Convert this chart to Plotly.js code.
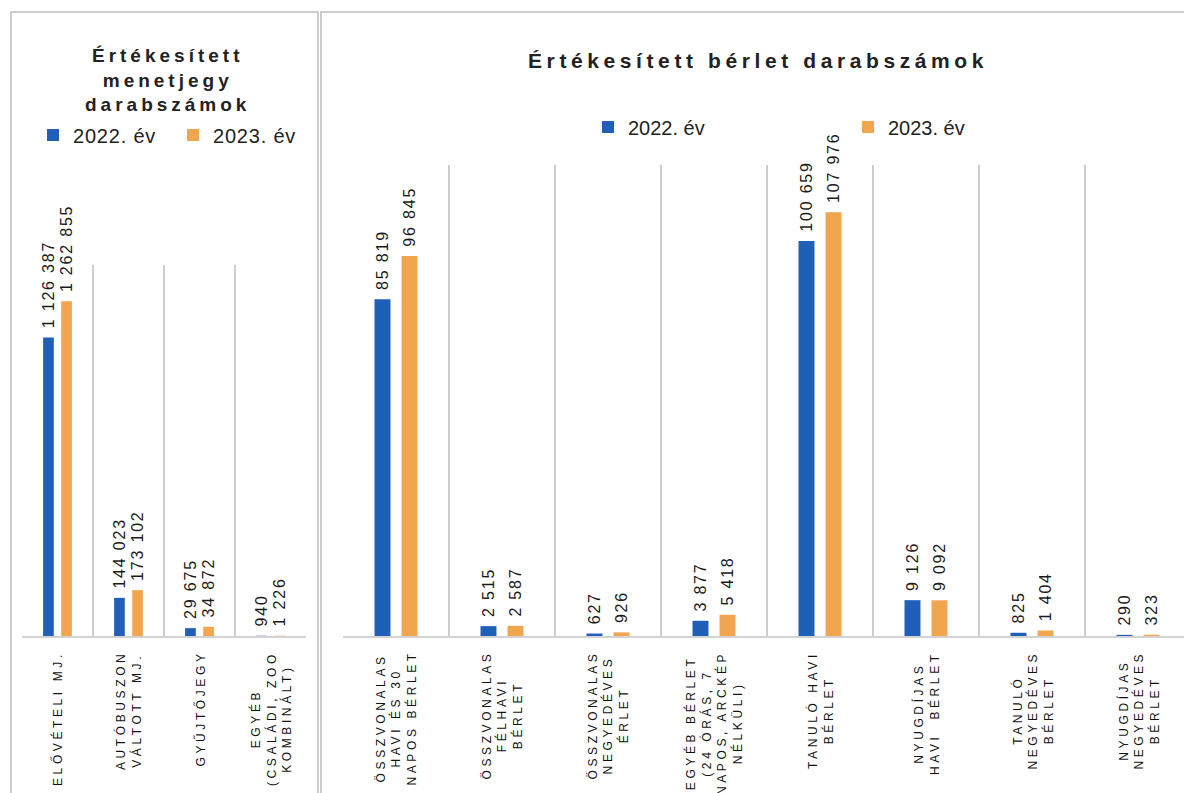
<!DOCTYPE html>
<html>
<head>
<meta charset="utf-8">
<script src="https://cdn.plot.ly/plotly-3.0.1.min.js"></script>
<style>
  html, body { margin: 0; padding: 0; background: #ffffff; overflow: hidden; }
  #chart { width: 1184px; height: 793px; }
  text.annotation-text[style*="font-size: 12px"] { letter-spacing: 3.6px; }
  text.annotation-text[style*="font-size: 19px"] { letter-spacing: 4px; }
  text.annotation-text[style*="font-size: 21px"] { letter-spacing: 4.6px; }
  text.bartext { letter-spacing: 1.8px; }
  text.legendtext { letter-spacing: 0.8px; }
</style>
</head>
<body>
<div id="chart"></div>
<script>
// ---- data ----
const seriesNames = ['2022. év', '2023. év'];

const menetCategories = [
  'ELŐVÉTELI MJ.',
  'AUTÓBUSZON<br>VÁLTOTT MJ.',
  'GYŰJTŐJEGY',
  'EGYÉB<br>(CSALÁDI, ZOO<br>KOMBINÁLT)'
];
const menet2022 = [1126387, 144023, 29675, 940];
const menet2023 = [1262855, 173102, 34872, 1226];

const berletCategories = [
  'ÖSSZVONALAS<br>HAVI ÉS 30<br>NAPOS BÉRLET',
  'ÖSSZVONALAS<br>FÉLHAVI<br>BÉRLET',
  'ÖSSZVONALAS<br>NEGYEDÉVES<br>ÉRLET',
  'EGYÉB BÉRLET<br>(24 ÓRÁS, 7<br>NAPOS, ARCKÉP<br>NÉLKÜLI)',
  'TANULÓ HAVI<br>BÉRLET',
  'NYUGDÍJAS<br>HAVI  BÉRLET',
  'TANULÓ<br>NEGYEDÉVES<br>BÉRLET',
  'NYUGDÍJAS<br>NEGYEDÉVES<br>BÉRLET'
];
const berlet2022 = [85819, 2515, 627, 3877, 100659, 9126, 825, 290];
const berlet2023 = [96845, 2587, 926, 5418, 107976, 9092, 1404, 323];

const menetTitle = 'Értékesített<br>menetjegy<br>darabszámok';
const berletTitle = 'Értékesített bérlet darabszámok';

// ---- styling ----
const W = 1184, H = 793;
const px = v => v / W;
const py = v => 1 - v / H;
const FONT = 'Liberation Sans, Arial, sans-serif';
const BLUE = '#1f5fb8';
const ORANGE = '#f2a54f';

function barTrace(x, y, name, color, xa, ya, legend) {
  return {
    type: 'bar', x: x, y: y, name: name, xaxis: xa, yaxis: ya, legend: legend,
    marker: { color: color },
    texttemplate: '\u00a0%{y:,}', textposition: 'outside', textangle: -90,
    textfont: { family: FONT, size: 16, color: '#1a1a1a' },
    cliponaxis: false, constraintext: 'none', hoverinfo: 'skip'
  };
}

const data = [
  barTrace(menetCategories, menet2022, seriesNames[0], BLUE, 'x', 'y', 'legend'),
  barTrace(menetCategories, menet2023, seriesNames[1], ORANGE, 'x', 'y', 'legend'),
  barTrace(berletCategories, berlet2022, seriesNames[0], BLUE, 'x2', 'y2', 'legend2'),
  barTrace(berletCategories, berlet2023, seriesNames[1], ORANGE, 'x2', 'y2', 'legend2')
];

const xCommon = {
  type: 'category', tickson: 'boundaries', showgrid: true, gridcolor: '#cdcdcd', gridwidth: 1.5,
  showline: true, linecolor: '#d2d2d2', linewidth: 1.5, showticklabels: false, ticks: '',
  zeroline: false, fixedrange: true
};
const yCommon = { showgrid: false, zeroline: false, showticklabels: false, showline: false, fixedrange: true };

const annotations = [];
menetCategories.forEach(c => annotations.push({
  text: c, x: c, xref: 'x', y: py(649), yref: 'paper', xanchor: 'center', yanchor: 'top',
  textangle: -90, align: 'center', showarrow: false,
  font: { family: FONT, size: 12, color: '#111111' }
}));
berletCategories.forEach(c => annotations.push({
  text: c, x: c, xref: 'x2', y: py(649), yref: 'paper', xanchor: 'center', yanchor: 'top',
  textangle: -90, align: 'center', showarrow: false,
  font: { family: FONT, size: 12, color: '#111111' }
}));
annotations.push({
  text: '<b>' + menetTitle.split('<br>').join('</b><br><b>') + '</b>',
  x: px(167), y: py(80), xref: 'paper', yref: 'paper', xanchor: 'center', yanchor: 'middle',
  align: 'center', showarrow: false, font: { family: FONT, size: 19, color: '#222222' }
});
annotations.push({
  text: '<b>' + berletTitle + '</b>',
  x: px(758), y: py(60), xref: 'paper', yref: 'paper', xanchor: 'center', yanchor: 'middle',
  showarrow: false, font: { family: FONT, size: 21, color: '#222222' }
});

const layout = {
  width: W, height: H,
  margin: { l: 0, r: 0, t: 0, b: 0 },
  paper_bgcolor: '#ffffff', plot_bgcolor: 'rgba(0,0,0,0)',
  separators: ', ',
  barmode: 'group', bargap: 0.49, bargroupgap: 0.41,
  font: { family: FONT, color: '#222222' },
  xaxis: Object.assign({}, xCommon, { domain: [px(22), px(306)], range: [-0.5, 3.5], anchor: 'y' }),
  yaxis: Object.assign({}, yCommon, { domain: [py(636), py(265)], range: [0, 1400000], anchor: 'x' }),
  xaxis2: Object.assign({}, xCommon, { domain: [px(343), 1], range: [-0.5, 7.5 - (1191 - 1184) / 106], anchor: 'y2' }),
  yaxis2: Object.assign({}, yCommon, { domain: [py(636), py(165)], range: [0, 120000], anchor: 'x2' }),
  legend: {
    orientation: 'h', x: px(33), y: py(135), xanchor: 'left', yanchor: 'middle',
    entrywidth: 95, entrywidthmode: 'pixels', bgcolor: 'rgba(0,0,0,0)',
    font: { family: FONT, size: 20, color: '#222222' }, traceorder: 'normal'
  },
  legend2: {
    orientation: 'h', x: px(588), y: py(127), xanchor: 'left', yanchor: 'middle',
    entrywidth: 215, entrywidthmode: 'pixels', bgcolor: 'rgba(0,0,0,0)',
    font: { family: FONT, size: 20, color: '#222222' }, traceorder: 'normal'
  },
  annotations: annotations,
  shapes: [
    { type: 'rect', xref: 'paper', yref: 'paper', x0: px(11), x1: px(318), y0: -0.05, y1: py(12),
      line: { color: '#bdbdbd', width: 1.5 }, layer: 'below' },
    { type: 'rect', xref: 'paper', yref: 'paper', x0: px(321), x1: 1.05, y0: -0.05, y1: py(12),
      line: { color: '#bdbdbd', width: 1.5 }, layer: 'below' }
  ]
};

Plotly.newPlot('chart', data, layout, { displayModeBar: false, staticPlot: true });
</script>
</body>
</html>
